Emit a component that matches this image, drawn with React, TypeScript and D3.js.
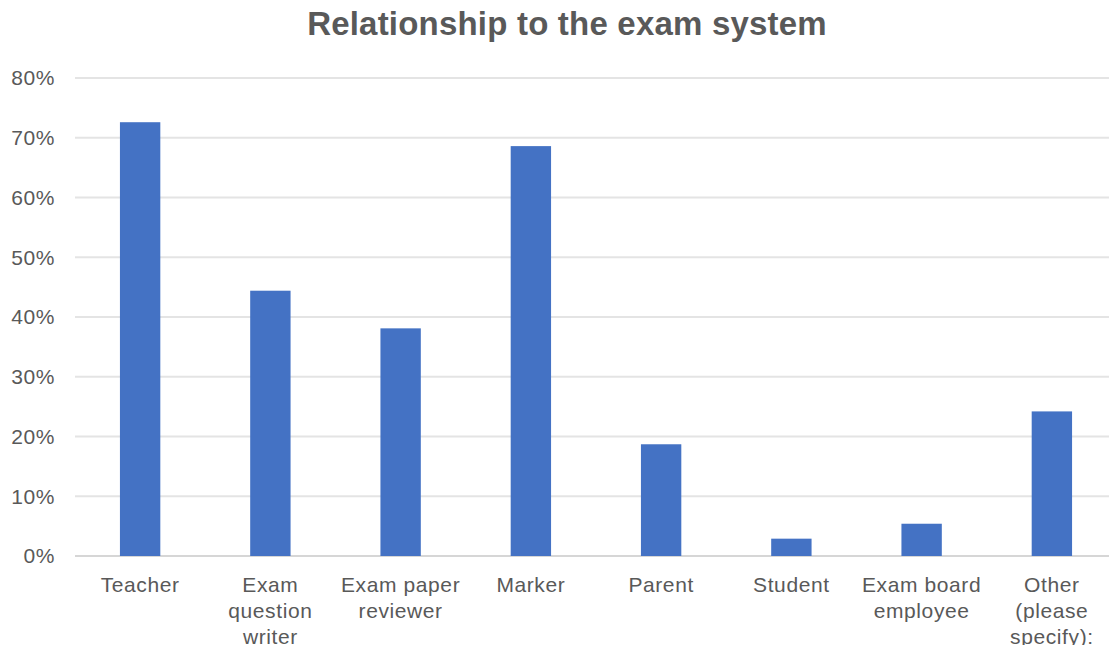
import React from 'react'
import * as d3 from 'd3'

const categories = [
	['Teacher'],
	['Exam', 'question', 'writer'],
	['Exam paper', 'reviewer'],
	['Marker'],
	['Parent'],
	['Student'],
	['Exam board', 'employee'],
	['Other', '(please', 'specify):'],
]
const values = [0.726, 0.444, 0.381, 0.686, 0.187, 0.029, 0.054, 0.242]
const yTicks = [0, 0.1, 0.2, 0.3, 0.4, 0.5, 0.6, 0.7, 0.8]

const width = 1109
const height = 645
const margin = { top: 78, right: -8, bottom: 89, left: 75 }
const textColor = '#595959'

const App = () => {
	const keys = categories.map((c) => c.join(' '))

	const x = d3
		.scaleBand()
		.domain(keys)
		.range([margin.left, width - margin.right])
		.paddingInner(0.69)
		.paddingOuter(0.345)

	const y = d3
		.scaleLinear()
		.domain([0, 0.8])
		.range([height - margin.bottom, margin.top])

	const fmt = d3.format('.0%')

	return (
		<svg
			width={width}
			height={height}
			style={{ position: 'absolute', left: 0, top: 0, background: '#fff' }}
			fontFamily="'Liberation Sans', Arial, sans-serif"
		>
			<text
				x={567}
				y={35}
				textAnchor="middle"
				fontSize={33}
				fontWeight="bold"
				letterSpacing={0.2}
				fill={textColor}
			>
				Relationship to the exam system
			</text>

			{yTicks.map((t) => (
				<g key={t}>
					<line
						x1={margin.left}
						x2={width}
						y1={y(t)}
						y2={y(t)}
						stroke={t === 0 ? '#c8c8c8' : '#e4e4e4'}
						strokeWidth={t === 0 ? 1.5 : 2}
					/>
					<text
						x={55}
						y={y(t)}
						dy="0.35em"
						textAnchor="end"
						fontSize={21}
						letterSpacing={0.6}
						fill={textColor}
					>
						{fmt(t)}
					</text>
				</g>
			))}

			{values.map((v, i) => (
				<rect
					key={keys[i]}
					x={x(keys[i])!}
					y={y(v)}
					width={x.bandwidth()}
					height={y(0) - y(v)}
					fill="#4472C4"
				/>
			))}

			{categories.map((lines, i) => {
				const cx = x(keys[i])! + x.bandwidth() / 2
				return (
					<text
						key={keys[i]}
						x={cx}
						y={592}
						textAnchor="middle"
						fontSize={21}
						letterSpacing={0.6}
						fill={textColor}
					>
						{lines.map((l, j) => (
							<tspan key={j} x={cx} dy={j === 0 ? 0 : 26}>
								{l}
							</tspan>
						))}
					</text>
				)
			})}
		</svg>
	)
}

export default App
